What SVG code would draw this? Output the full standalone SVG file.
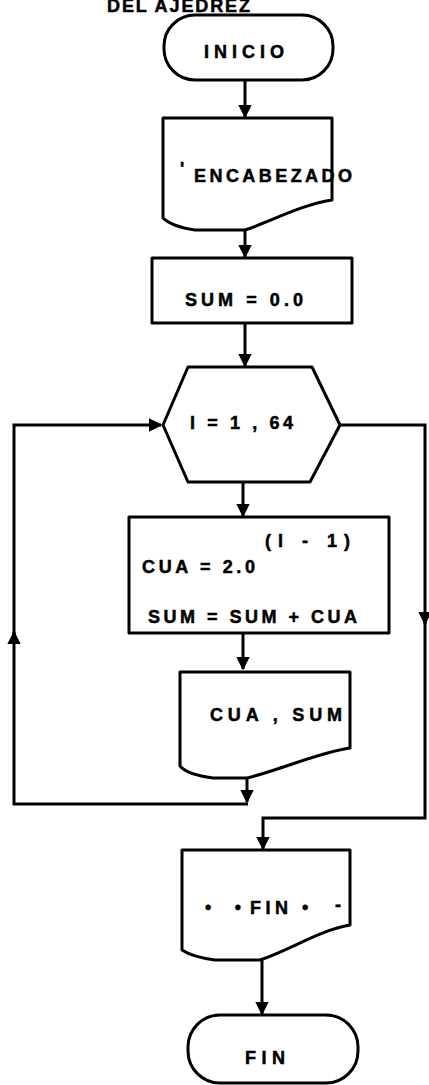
<svg xmlns="http://www.w3.org/2000/svg" width="429" height="1085" viewBox="0 0 429 1085">
<style>
.s{fill:#fff;stroke:#000;stroke-width:3;stroke-linejoin:round}
.c{fill:none;stroke:#000;stroke-width:3}
.t{font-family:"Liberation Sans",Arial,sans-serif;font-weight:bold;font-size:18px;fill:#000;stroke:#000;stroke-width:0.5}
</style>
<defs>
<marker id="a" viewBox="0 0 10 10" refX="9" refY="5" markerWidth="4.5" markerHeight="4.5" markerUnits="strokeWidth" orient="auto">
<path d="M0,0 L10,5 L0,10 Z" fill="#000"/>
</marker>
</defs>
<rect width="429" height="1085" fill="#fff"/>
<g id="connectors">
<path class="c" d="M245,80 V117" marker-end="url(#a)"/>
<path class="c" d="M245,230 V257" marker-end="url(#a)"/>
<path class="c" d="M245,323 V366" marker-end="url(#a)"/>
<path class="c" d="M243,482 V516" marker-end="url(#a)"/>
<path class="c" d="M243,633 V669" marker-end="url(#a)"/>
<path class="c" d="M247,778 V802" marker-end="url(#a)"/>
<path class="c" d="M248,804 H14 V632" marker-end="url(#a)"/>
<path class="c" d="M14,640 V425 H161" marker-end="url(#a)"/>
<path class="c" d="M340,425 H425 V624" marker-end="url(#a)"/>
<path class="c" d="M425,615 V818 H263 V849" marker-end="url(#a)"/>
<path class="c" d="M262,960 V1014" marker-end="url(#a)"/>
</g>
<g id="inicio">
<rect class="s" x="164" y="15" width="169" height="65" rx="31"/>
<text class="t" x="204" y="58" textLength="80" lengthAdjust="spacing">INICIO</text>
</g>
<g id="encabezado">
<path class="s" d="M163,118 H332 V200 C300,205 270,222 245,230 L195,230 C180,228 168,223 163,218 Z"/>
<text class="t" x="180" y="175" font-size="13">'</text>
<text class="t" x="194" y="182" textLength="158" lengthAdjust="spacing">ENCABEZADO</text>
</g>
<g id="sum0">
<rect class="s" x="152" y="258" width="200" height="65"/>
<text class="t" x="185" y="306" textLength="118" lengthAdjust="spacing">SUM = 0.0</text>
</g>
<g id="loop">
<path class="s" d="M188,367 H312 L340,425 L310,482 H188 L163,425 Z"/>
<text class="t" x="190" y="429" textLength="103" lengthAdjust="spacing">I = 1 , 64</text>
</g>
<g id="calc">
<rect class="s" x="129" y="517" width="260" height="116"/>
<text class="t" x="265" y="547" textLength="85" lengthAdjust="spacing">(I - 1)</text>
<text class="t" x="142" y="573" textLength="113" lengthAdjust="spacing">CUA = 2.0</text>
<text class="t" x="148" y="623" textLength="209" lengthAdjust="spacing">SUM = SUM + CUA</text>
</g>
<g id="print">
<path class="s" d="M180,672 H350 V748 C320,752 280,770 247,778 L213,778 C198,776 185,772 180,766 Z"/>
<text class="t" x="210" y="721" textLength="132" lengthAdjust="spacing">CUA , SUM</text>
</g>
<g id="printfin">
<path class="s" d="M182,850 H350 V925 C320,930 290,950 260,960 L215,960 C200,958 188,954 182,950 Z"/>
<text class="t" x="205" y="913" textLength="36" lengthAdjust="spacing">• •</text>
<text class="t" x="250" y="914" textLength="38" lengthAdjust="spacing">FIN</text>
<text class="t" x="302" y="913">•</text>
<text class="t" x="335" y="911">-</text>
</g>
<g id="fin">
<rect class="s" x="188" y="1015" width="170" height="68" rx="32"/>
<text class="t" x="245" y="1064" textLength="40" lengthAdjust="spacing">FIN</text>
</g>
<text class="t" x="107" y="12" font-size="8" stroke-width="0.3" textLength="143" lengthAdjust="spacing">DEL AJEDREZ</text>
</svg>
